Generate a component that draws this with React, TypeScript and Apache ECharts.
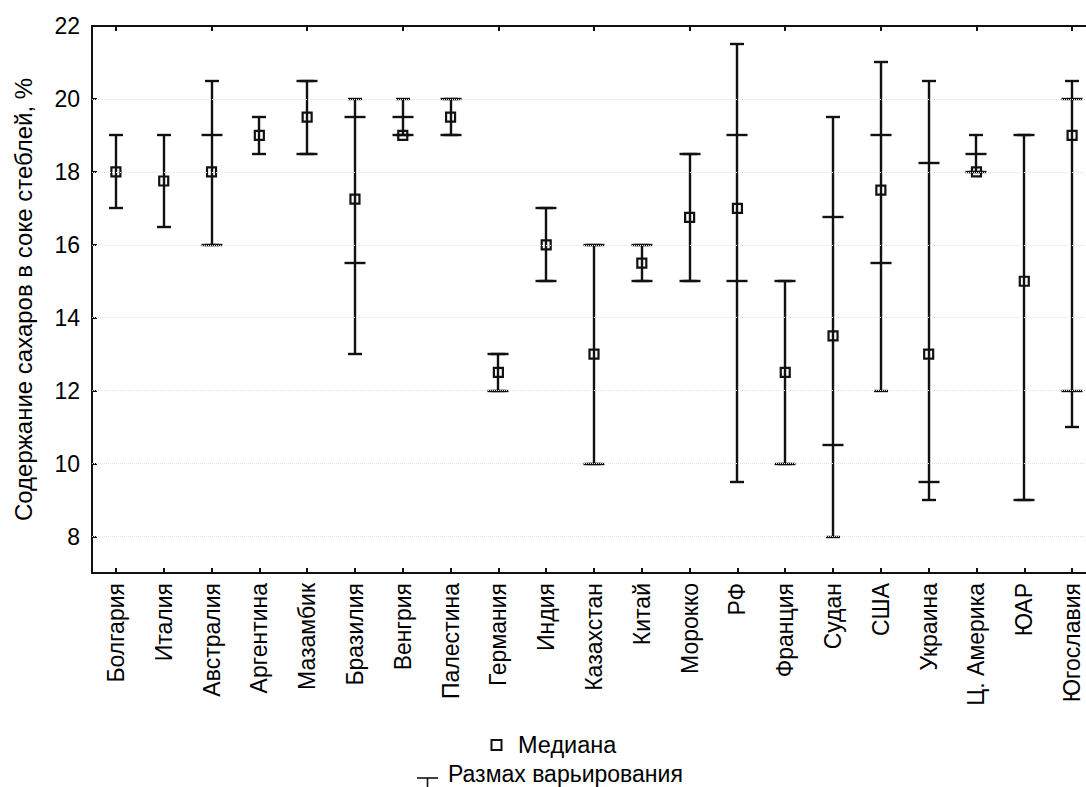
import { useEffect, useRef } from "react";
import * as echarts from "echarts";

const categories = [
  "Болгария", "Италия", "Австралия", "Аргентина", "Мазамбик", "Бразилия", "Венгрия",
  "Палестина", "Германия", "Индия", "Казахстан", "Китай", "Морокко", "РФ", "Франция",
  "Судан", "США", "Украина", "Ц. Америка", "ЮАР", "Югославия",
];
const medians = [18, 17.75, 18, 19, 19.5, 17.25, 19, 19.5, 12.5, 16, 13, 15.5, 16.75, 17, 12.5, 13.5, 17.5, 13, 18, 15, 19];
const mins = [17, 16.5, 16, 18.5, 18.5, 13, 19, 19, 12, 15, 10, 15, 15, 9.5, 10, 8, 12, 9, 18, 9, 11];
const maxs = [19, 19, 20.5, 19.5, 20.5, 20, 20, 20, 13, 17, 16, 16, 18.5, 21.5, 15, 19.5, 21, 20.5, 19, 19, 20.5];
const lowerTicks = [null, null, 16, null, 18.5, 15.5, 19, 19, 12, 15, 10, 15, 15, 15, 10, 10.5, 15.5, 9.5, 18, 9, 12];
const upperTicks = [null, null, 19, null, 20.5, 19.5, 19.5, 20, 13, 17, 16, 16, 18.5, 19, 15, 16.75, 19, 18.25, 18.5, 19, 20];
const yTicks = [8, 10, 12, 14, 16, 18, 20, 22];
const gridValues = [8, 10, 12, 14, 16, 18, 20];

const FONT = '"Liberation Sans", Arial, sans-serif';
const INK = "#111111";

export default function App() {
  const ref = useRef<HTMLDivElement>(null);

  useEffect(() => {
    if (!ref.current) return;
    const chart = echarts.init(ref.current, undefined, { renderer: "svg" });

    const rangeData = categories.map((_, i) => [
      i,
      mins[i],
      maxs[i],
      lowerTicks[i] == null ? NaN : lowerTicks[i],
      upperTicks[i] == null ? NaN : upperTicks[i],
    ]);

    const capHalf = 7;
    const tickHalf = 10.5;

    const option: any = {
      animation: false,
      backgroundColor: "#ffffff",
      textStyle: { fontFamily: FONT },
      grid: { left: 92, top: 26, width: 1004, height: 547, containLabel: false },
      xAxis: [
        {
          type: "category",
          data: categories,
          position: "bottom",
          axisLine: { show: true, lineStyle: { color: INK, width: 2 } },
          axisTick: { show: true, inside: true, alignWithLabel: true, length: 5, lineStyle: { color: INK, width: 2 } },
          axisLabel: { rotate: 90, fontSize: 23, color: "#000", margin: 10, fontFamily: FONT, interval: 0 },
          splitLine: { show: false },
        },
        {
          type: "category",
          data: categories,
          position: "top",
          axisLine: { show: true, lineStyle: { color: INK, width: 2 } },
          axisTick: { show: true, inside: true, alignWithLabel: true, length: 5, lineStyle: { color: INK, width: 2 } },
          axisLabel: { show: false },
          splitLine: { show: false },
        },
      ],
      yAxis: {
        type: "value",
        min: 7,
        max: 22,
        name: "Содержание сахаров в соке стеблей, %",
        nameLocation: "middle",
        nameGap: 57,
        nameTextStyle: { fontSize: 24, color: "#000", fontFamily: FONT },
        axisLine: { show: true, lineStyle: { color: INK, width: 2 } },
        axisTick: { show: true, inside: true, length: 5, customValues: yTicks, lineStyle: { color: INK, width: 2 } },
        axisLabel: { fontSize: 23, color: "#000", margin: 12, fontFamily: FONT, customValues: yTicks },
        splitLine: { show: false },
      },
      series: [
        {
          name: "grid",
          type: "scatter",
          data: [],
          z: 0,
          silent: true,
          markLine: {
            silent: true,
            symbol: ["none", "none"],
            label: { show: false },
            lineStyle: { color: "#e2e2e2", width: 1, type: "dotted" },
            data: gridValues.map((v) => ({ yAxis: v })),
          },
        },
        {
          name: "Размах варьирования",
          type: "custom",
          z: 2,
          data: rangeData,
          encode: { x: 0, y: [1, 2] },
          renderItem: (_params: any, api: any) => {
            const i = api.value(0);
            const lo = api.coord([i, api.value(1)]);
            const hi = api.coord([i, api.value(2)]);
            const x = Math.round(lo[0]);
            const yl = Math.round(lo[1]);
            const yh = Math.round(hi[1]);
            const style = { stroke: INK, lineWidth: 2.4 };
            const children: any[] = [
              { type: "line", shape: { x1: x, y1: yl, x2: x, y2: yh }, style },
              { type: "line", shape: { x1: x - capHalf, y1: yl, x2: x + capHalf, y2: yl }, style },
              { type: "line", shape: { x1: x - capHalf, y1: yh, x2: x + capHalf, y2: yh }, style },
            ];
            [api.value(3), api.value(4)].forEach((v: number) => {
              if (typeof v === "number" && isFinite(v)) {
                const p = Math.round(api.coord([i, v])[1]);
                children.push({
                  type: "line",
                  shape: { x1: x - tickHalf, y1: p, x2: x + tickHalf, y2: p },
                  style,
                });
              }
            });
            return { type: "group", children };
          },
        },
        {
          name: "Медиана",
          type: "scatter",
          z: 3,
          data: medians.map((m, i) => [i, m]),
          symbol: "rect",
          symbolSize: 9,
          itemStyle: { color: "rgba(255,255,255,0)", borderColor: INK, borderWidth: 2.2, opacity: 1 },
        },
      ],
      graphic: [
        {
          type: "rect",
          shape: { x: 491.5, y: 740, width: 10, height: 10 },
          style: { fill: "none", stroke: INK, lineWidth: 2 },
        },
        {
          type: "text",
          x: 518,
          y: 745,
          style: { text: "Медиана", fontSize: 23.5, fontFamily: FONT, fill: "#000", verticalAlign: "middle" },
        },
        {
          type: "line",
          shape: { x1: 417, y1: 778, x2: 438, y2: 778 },
          style: { stroke: INK, lineWidth: 1.6 },
        },
        {
          type: "line",
          shape: { x1: 427.5, y1: 778, x2: 427.5, y2: 800 },
          style: { stroke: INK, lineWidth: 1.6 },
        },
        {
          type: "text",
          x: 448,
          y: 774,
          style: { text: "Размах варьирования", fontSize: 23, fontFamily: FONT, fill: "#000", verticalAlign: "middle" },
        },
      ],
    };

    chart.setOption(option);
    return () => chart.dispose();
  }, []);

  return (
    <div style={{ position: "absolute", left: 0, top: 0, width: 1086, height: 787, overflow: "hidden" }}>
      <div ref={ref} style={{ width: 1100, height: 787 }} />
    </div>
  );
}
